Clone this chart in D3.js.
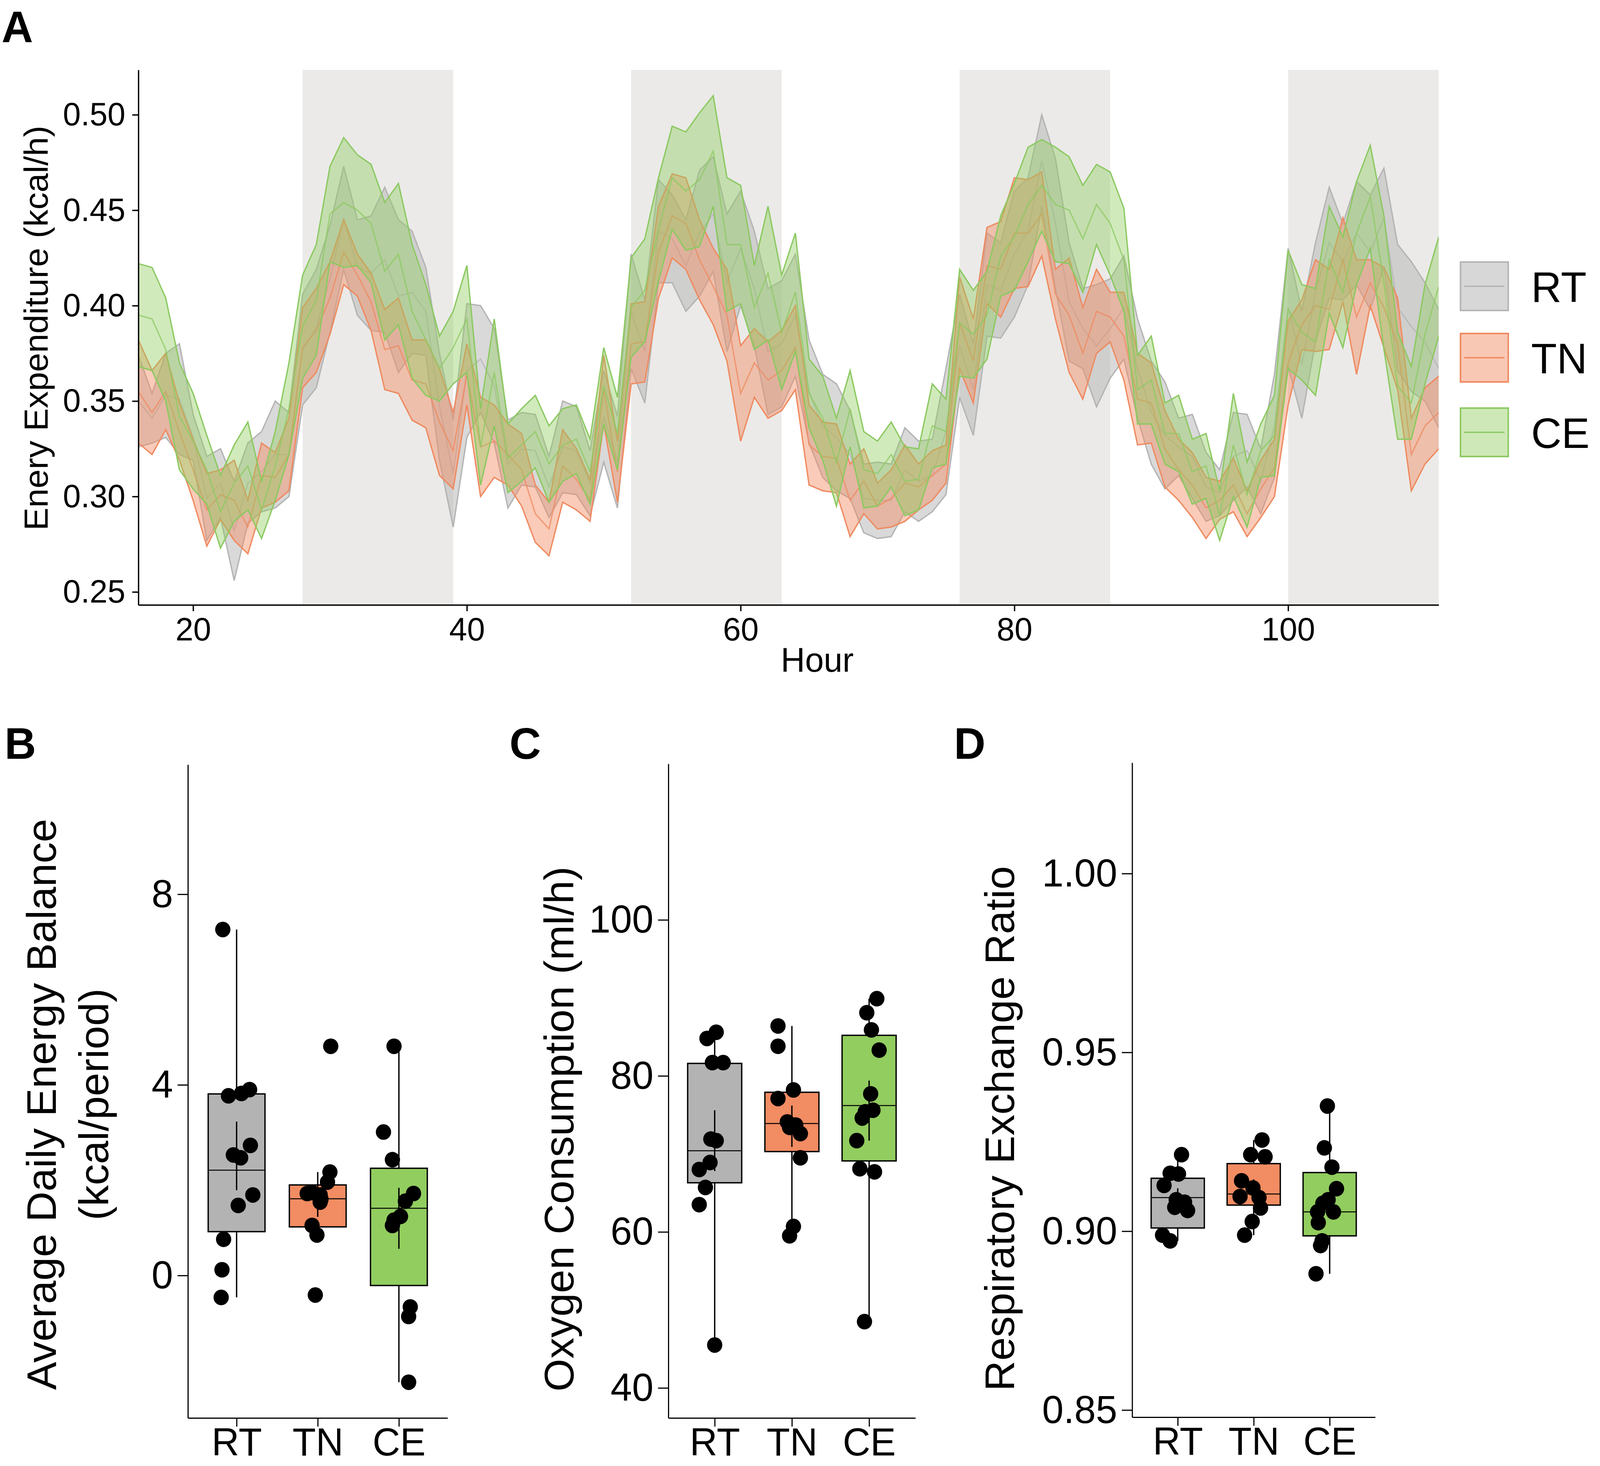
<!DOCTYPE html>
<html><head><meta charset="utf-8">
<script src="https://cdn.jsdelivr.net/npm/d3@7"></script>
<style>html,body{margin:0;padding:0;background:#fff;overflow:hidden} svg{display:block;width:100vw;height:100vh} text{font-family:"Liberation Sans",Arial,Helvetica,sans-serif}</style>
</head><body><svg id="c" viewBox="0 0 4186 3754" preserveAspectRatio="none" xmlns="http://www.w3.org/2000/svg"></svg>
<script>
// ---------------- DATA ----------------
const groups = ["RT", "TN", "CE"];
const groupColors = ["#b3b3b3", "#f28c62", "#92cd5f"];
const lineColors = ["#b4b4b4", "#ef8a60", "#8cc962"];

// Panel A: hourly energy expenditure (mean and SEM, kcal/h)
const hours = [16,17,18,19,20,21,22,23,24,25,26,27,28,29,30,31,32,33,34,35,36,37,38,39,40,41,42,43,44,45,46,47,48,49,50,51,52,53,54,55,56,57,58,59,60,61,62,63,64,65,66,67,68,69,70,71,72,73,74,75,76,77,78,79,80,81,82,83,84,85,86,87,88,89,90,91,92,93,94,95,96,97,98,99,100,101,102,103,104,105,106,107,108,109,110,111];
const hourDomain = [16, 111];
const eeDomain = [0.2432, 0.5235];
const eeTicks = [0.25, 0.30, 0.35, 0.40, 0.45, 0.50];
const hourTicks = [20, 40, 60, 80, 100];
const darkStart = [28, 52, 76, 100];
const darkEnd = [39, 63, 87, 111];

const rtMean = [.350,.341,.353,.351,.331,.299,.307,.282,.307,.313,.322,.322,.377,.388,.414,.446,.420,.417,.424,.405,.407,.397,.347,.312,.366,.372,.358,.317,.325,.324,.305,.326,.324,.307,.342,.318,.397,.376,.439,.435,.421,.438,.448,.412,.430,.409,.376,.380,.395,.355,.337,.331,.322,.299,.298,.298,.314,.308,.311,.334,.379,.356,.411,.408,.427,.439,.476,.443,.402,.388,.379,.388,.399,.367,.344,.332,.326,.321,.305,.302,.321,.324,.308,.337,.399,.369,.407,.433,.423,.438,.428,.446,.399,.389,.381,.367];
const rtSe = [.024,.013,.022,.029,.012,.022,.018,.026,.021,.021,.028,.022,.029,.031,.028,.027,.025,.030,.038,.040,.032,.023,.028,.028,.035,.028,.030,.023,.019,.019,.016,.024,.023,.017,.024,.024,.030,.027,.027,.023,.024,.033,.030,.036,.030,.030,.033,.033,.032,.027,.027,.028,.023,.018,.020,.019,.022,.021,.019,.033,.027,.024,.027,.025,.033,.028,.024,.034,.031,.021,.032,.026,.027,.026,.027,.028,.015,.022,.018,.012,.023,.019,.017,.027,.031,.028,.026,.029,.020,.027,.030,.026,.033,.034,.031,.031];
const tnMean = [.355,.344,.355,.334,.314,.293,.301,.298,.284,.311,.310,.322,.378,.387,.404,.428,.416,.402,.377,.379,.361,.359,.339,.324,.364,.326,.329,.322,.314,.291,.283,.316,.309,.298,.356,.313,.380,.381,.428,.447,.443,.424,.410,.395,.354,.370,.361,.366,.378,.327,.321,.320,.298,.308,.295,.299,.307,.305,.311,.317,.391,.371,.421,.419,.438,.438,.448,.406,.395,.375,.397,.394,.384,.351,.349,.325,.314,.306,.294,.298,.306,.291,.304,.315,.370,.390,.400,.398,.424,.394,.412,.399,.380,.322,.337,.344];
const tnSe = [.027,.022,.020,.015,.016,.019,.013,.021,.014,.017,.013,.019,.021,.022,.019,.017,.011,.015,.021,.025,.021,.023,.028,.020,.016,.026,.019,.016,.019,.015,.014,.019,.016,.011,.018,.016,.021,.021,.024,.022,.024,.021,.020,.024,.025,.018,.020,.021,.022,.021,.018,.018,.019,.017,.012,.015,.020,.012,.013,.010,.024,.022,.020,.025,.029,.028,.022,.013,.030,.024,.022,.013,.023,.024,.021,.020,.016,.017,.016,.010,.014,.012,.015,.015,.022,.013,.024,.021,.022,.030,.012,.021,.024,.019,.020,.019];
const ceMean = [.395,.393,.377,.342,.329,.314,.292,.307,.316,.293,.316,.346,.389,.403,.448,.454,.450,.443,.418,.427,.397,.382,.367,.378,.393,.326,.365,.320,.327,.334,.317,.327,.330,.313,.358,.333,.399,.408,.440,.467,.460,.466,.481,.432,.432,.399,.417,.386,.407,.354,.341,.318,.346,.314,.312,.322,.308,.309,.337,.334,.391,.385,.395,.426,.436,.453,.463,.453,.450,.435,.453,.443,.424,.356,.361,.333,.333,.313,.316,.290,.327,.301,.324,.332,.398,.386,.381,.424,.407,.438,.457,.412,.358,.349,.385,.410];
const ceSe = [.027,.027,.027,.028,.025,.018,.019,.020,.023,.015,.018,.024,.027,.029,.025,.034,.029,.031,.036,.037,.035,.029,.017,.019,.028,.020,.028,.018,.019,.019,.020,.019,.018,.017,.020,.019,.026,.027,.027,.027,.031,.035,.029,.035,.031,.022,.035,.030,.031,.018,.022,.023,.020,.020,.017,.017,.018,.016,.022,.017,.028,.023,.023,.021,.028,.030,.024,.030,.028,.028,.021,.027,.027,.018,.023,.016,.020,.017,.017,.013,.027,.017,.014,.021,.031,.025,.028,.028,.029,.027,.027,.035,.028,.019,.026,.026];

// Panel B: average daily energy balance (kcal/period)
const bDomain = [-2.99, 10.72];
const bTicks = [0, 4, 8];
const bQ1 = [0.92, 1.02, -0.21];
const bMed = [2.21, 1.61, 1.41];
const bQ3 = [3.81, 1.90, 2.25];
const bLo = [-0.46, 0.85, -2.24];
const bHi = [7.26, 2.17, 4.81];
const bMean = [2.51, 1.58, 1.20];
const bSe = [0.72, 0.35, 0.64];
const bRT = [7.26, 3.77, 3.82, 3.90, 2.73, 2.53, 2.47, 1.69, 1.47, 0.76, 0.12, -0.46];
const bRTj = [-0.17, -0.10, 0.06, 0.16, 0.17, -0.04, 0.05, 0.20, 0.02, -0.16, -0.18, -0.19];
const bTN = [4.81, 2.17, 1.96, 1.74, 1.72, 1.69, 1.60, 1.54, 1.05, 0.85, -0.41];
const bTNj = [0.16, 0.15, 0.12, -0.07, -0.13, 0.03, 0.04, 0.03, -0.07, -0.01, -0.03];
const bCE = [4.81, 3.01, 2.43, 1.72, 1.56, 1.24, 1.16, 1.05, -0.66, -0.86, -2.24];
const bCEj = [-0.06, -0.19, -0.08, 0.18, 0.08, 0.02, -0.06, -0.08, 0.14, 0.12, 0.12];

// Panel C: oxygen consumption (ml/h)
const cDomain = [36.15, 120];
const cTicks = [40, 60, 80, 100];
const cQ1 = [66.3, 70.3, 69.1];
const cMed = [70.4, 73.9, 76.2];
const cQ3 = [81.6, 77.9, 85.2];
const cLo = [45.5, 59.5, 48.5];
const cHi = [85.6, 86.4, 89.9];
const cMean = [71.7, 73.55, 75.55];
const cSe = [3.9, 2.65, 3.85];
const cRT = [85.6, 84.8, 81.7, 81.7, 71.9, 71.7, 68.9, 68.0, 65.7, 63.5, 45.5];
const cRTj = [0.02, -0.10, 0.11, -0.03, -0.05, 0.02, -0.06, -0.20, -0.12, -0.20, 0.0];
const cTN = [86.4, 83.8, 78.2, 77.1, 74.1, 73.7, 72.6, 73.4, 69.5, 60.7, 59.5];
const cTNj = [-0.18, -0.18, 0.02, -0.18, -0.06, 0.05, 0.11, -0.03, 0.11, 0.02, -0.03];
const cCE = [89.9, 88.1, 85.9, 83.3, 77.7, 75.6, 75.4, 74.6, 71.7, 68.1, 67.7, 48.5];
const cCEj = [0.10, -0.03, 0.03, 0.13, 0.02, 0.05, -0.05, -0.09, -0.16, -0.12, 0.07, -0.06];

// Panel D: respiratory exchange ratio
const dDomain = [0.848, 1.031];
const dTicks = [0.85, 0.90, 0.95, 1.00];
const dQ1 = [0.9009, 0.9073, 0.8987];
const dMed = [0.9094, 0.9104, 0.9054];
const dQ3 = [0.9148, 0.9189, 0.9164];
const dLo = [0.8973, 0.8989, 0.8881];
const dHi = [0.9214, 0.9255, 0.9350];
const dMean = [0.9095, 0.9120, 0.9080];
const dSe = [0.0025, 0.0025, 0.0030];
const dRT = [0.9214, 0.9162, 0.9160, 0.9128, 0.9088, 0.9081, 0.9067, 0.9058, 0.8989, 0.8973];
const dRTj = [0.05, -0.10, 0.01, -0.18, -0.02, 0.09, -0.04, 0.13, -0.20, -0.10];
const dTN = [0.9255, 0.9214, 0.9208, 0.9141, 0.9097, 0.9121, 0.9094, 0.9065, 0.9027, 0.8989];
const dTNj = [0.11, -0.04, 0.15, -0.16, -0.18, -0.01, 0.07, 0.09, -0.02, -0.12];
const dCE = [0.9350, 0.9233, 0.9179, 0.9119, 0.9088, 0.9078, 0.9054, 0.9054, 0.9024, 0.8973, 0.8960, 0.8881];
const dCEj = [-0.03, -0.07, 0.03, 0.09, -0.02, -0.09, 0.05, -0.16, -0.15, -0.10, -0.12, -0.18];

// ---------------- DRAW ----------------
const svg = d3.select("#c");
svg.append("rect").attr("width", 4186).attr("height", 3754).attr("fill", "#ffffff");
const FONT = '"Liberation Sans", Arial, Helvetica, sans-serif';

// ===== Panel A =====
const A = {l: 362, r: 3764, t: 179, b: 1549};
const xA = d3.scaleLinear().domain(hourDomain).range([A.l, A.r]);
const yA = d3.scaleLinear().domain(eeDomain).range([A.b, A.t]);

svg.append("defs").append("clipPath").attr("id", "clipA")
  .append("rect").attr("x", A.l).attr("y", A.t).attr("width", A.r - A.l).attr("height", A.b - A.t);

const gA = svg.append("g");
gA.selectAll("rect.dark").data(darkStart).enter().append("rect")
  .attr("x", (d) => xA(d)).attr("y", A.t)
  .attr("width", (d, i) => xA(darkEnd[i]) - xA(d)).attr("height", A.b - A.t)
  .attr("fill", "#ebeae8");

const seriesA = [
  {mean: rtMean, se: rtSe, fill: groupColors[0], op: 0.5, line: lineColors[0]},
  {mean: tnMean, se: tnSe, fill: groupColors[1], op: 0.45, line: lineColors[1]},
  {mean: ceMean, se: ceSe, fill: groupColors[2], op: 0.42, line: lineColors[2]}
];
const gData = gA.append("g").attr("clip-path", "url(#clipA)");
seriesA.forEach((s) => {
  const pts = hours.map((h, i) => ({h: h, m: s.mean[i], e: s.se[i]}));
  const area = d3.area().x((d) => xA(d.h)).y0((d) => yA(d.m - d.e)).y1((d) => yA(d.m + d.e));
  gData.append("path").attr("d", area(pts)).attr("fill", s.fill).attr("fill-opacity", s.op).attr("stroke", "none");
  const lineHi = d3.line().x((d) => xA(d.h)).y((d) => yA(d.m + d.e));
  const lineLo = d3.line().x((d) => xA(d.h)).y((d) => yA(d.m - d.e));
  const lineM = d3.line().x((d) => xA(d.h)).y((d) => yA(d.m));
  [lineHi, lineLo].forEach((ln) => {
    gData.append("path").attr("d", ln(pts)).attr("fill", "none").attr("stroke", s.line)
      .attr("stroke-width", 3.5).attr("stroke-linejoin", "miter");
  });
  gData.append("path").attr("d", lineM(pts)).attr("fill", "none").attr("stroke", s.line)
    .attr("stroke-width", 3.5).attr("stroke-opacity", 0.75);
});

function styleAxis(g, fs, sw) {
  g.selectAll("path.domain").attr("stroke", "#000").attr("stroke-width", sw);
  g.selectAll(".tick line").attr("stroke", "#000").attr("stroke-width", sw);
  g.selectAll(".tick text").attr("fill", "#000").style("font-size", fs + "px").style("font-family", FONT);
}
const axYA = svg.append("g").attr("transform", `translate(${A.l},0)`)
  .call(d3.axisLeft(yA).tickValues(eeTicks).tickFormat(d3.format(".2f")).tickSize(16).tickSizeOuter(0).tickPadding(18));
styleAxis(axYA, 84, 3.5);
const axXA = svg.append("g").attr("transform", `translate(0,${A.b})`)
  .call(d3.axisBottom(xA).tickValues(hourTicks).tickFormat(d3.format("d")).tickSize(16).tickSizeOuter(0).tickPadding(15));
styleAxis(axXA, 84, 3.5);

svg.append("text").attr("transform", "translate(125,840) rotate(-90)").attr("text-anchor", "middle")
  .style("font-size", "88px").text("Enery Expenditure (kcal/h)");
svg.append("text").attr("x", 2138).attr("y", 1720).attr("text-anchor", "middle")
  .style("font-size", "88px").text("Hour");
svg.append("text").attr("x", 4).attr("y", 108).style("font-size", "114px").style("font-weight", "bold").text("A");

// Legend
const legY = [733, 916, 1107];
groups.forEach((g, i) => {
  const lg = svg.append("g");
  lg.append("rect").attr("x", 3821).attr("y", legY[i] - 62).attr("width", 125).attr("height", 124)
    .attr("fill", "#ffffff");
  lg.append("rect").attr("x", 3821).attr("y", legY[i] - 62).attr("width", 125).attr("height", 124)
    .attr("fill", groupColors[i]).attr("fill-opacity", seriesA[i].op + 0.03)
    .attr("stroke", lineColors[i]).attr("stroke-width", 4);
  lg.append("line").attr("x1", 3831).attr("x2", 3936).attr("y1", legY[i]).attr("y2", legY[i])
    .attr("stroke", lineColors[i]).attr("stroke-width", 3.5);
  lg.append("text").attr("x", 4006).attr("y", legY[i]).attr("dy", "0.36em")
    .style("font-size", "110px").text(g);
});

// ===== Box panels =====
function boxPanel(cfg) {
  const x = d3.scaleLinear().domain([0.4, 3.6]).range([cfg.l, cfg.r]);
  const y = d3.scaleLinear().domain(cfg.domain).range([cfg.b, cfg.t]);
  const g = svg.append("g");
  const bw = 0.7;
  groups.forEach((name, i) => {
    const cx = x(i + 1);
    g.append("line").attr("x1", cx).attr("x2", cx).attr("y1", y(cfg.hi[i])).attr("y2", y(cfg.q3[i]))
      .attr("stroke", "#000").attr("stroke-width", 3.5);
    g.append("line").attr("x1", cx).attr("x2", cx).attr("y1", y(cfg.q1[i])).attr("y2", y(cfg.lo[i]))
      .attr("stroke", "#000").attr("stroke-width", 3.5);
    g.append("rect").attr("x", x(i + 1 - bw / 2)).attr("width", x(i + 1 + bw / 2) - x(i + 1 - bw / 2))
      .attr("y", y(cfg.q3[i])).attr("height", y(cfg.q1[i]) - y(cfg.q3[i]))
      .attr("fill", groupColors[i]).attr("stroke", "#000").attr("stroke-width", 3.5);
    g.append("line").attr("x1", x(i + 1 - bw / 2)).attr("x2", x(i + 1 + bw / 2))
      .attr("y1", y(cfg.med[i])).attr("y2", y(cfg.med[i])).attr("stroke", "#000").attr("stroke-width", 2.5);
    g.append("line").attr("x1", cx).attr("x2", cx)
      .attr("y1", y(cfg.mean[i] + cfg.se[i])).attr("y2", y(cfg.mean[i] - cfg.se[i]))
      .attr("stroke", "#000").attr("stroke-width", 3.5);
    const vals = cfg.pts[i], jit = cfg.jit[i];
    g.selectAll(null).data(vals).enter().append("circle")
      .attr("cx", (d, k) => x(i + 1 + jit[k])).attr("cy", (d) => y(d)).attr("r", 20).attr("fill", "#000");
  });
  const ay = svg.append("g").attr("transform", `translate(${cfg.l},0)`)
    .call(d3.axisLeft(y).tickValues(cfg.ticks).tickFormat(cfg.fmt).tickSize(27).tickSizeOuter(0).tickPadding(12));
  styleAxis(ay, 101, 3);
  const ax = svg.append("g").attr("transform", `translate(0,${cfg.b})`)
    .call(d3.axisBottom(x).tickValues([1, 2, 3]).tickFormat((d) => groups[d - 1]).tickSize(22).tickSizeOuter(0).tickPadding(3));
  styleAxis(ax, 100, 3);
  cfg.titles.forEach((tt) => {
    svg.append("text").attr("transform", `translate(${tt.x},${cfg.titleY}) rotate(-90)`)
      .attr("text-anchor", "middle").style("font-size", "108px").text(tt.text);
  });
  svg.append("text").attr("x", cfg.letterX).attr("y", 1943).style("font-size", "114px")
    .style("font-weight", "bold").text(cfg.letter);
}

boxPanel({l: 491.6, r: 1171, t: 1958, b: 3631, domain: bDomain, ticks: bTicks, fmt: d3.format("d"),
  q1: bQ1, med: bMed, q3: bQ3, lo: bLo, hi: bHi, mean: bMean, se: bSe,
  pts: [bRT, bTN, bCE], jit: [bRTj, bTNj, bCEj],
  titles: [{x: 146, text: "Average Daily Energy Balance"}, {x: 283, text: "(kcal/period)"}], titleY: 2828,
  letter: "B", letterX: 12});

boxPanel({l: 1748.6, r: 2395, t: 1956, b: 3631, domain: cDomain, ticks: cTicks, fmt: d3.format("d"),
  q1: cQ1, med: cMed, q3: cQ3, lo: cLo, hi: cHi, mean: cMean, se: cSe,
  pts: [cRT, cTN, cCE], jit: [cRTj, cTNj, cCEj],
  titles: [{x: 1500, text: "Oxygen Consumption (ml/h)"}], titleY: 2891,
  letter: "C", letterX: 1333});

boxPanel({l: 2962, r: 3598, t: 1953, b: 3629, domain: dDomain, ticks: dTicks, fmt: d3.format(".2f"),
  q1: dQ1, med: dMed, q3: dQ3, lo: dLo, hi: dHi, mean: dMean, se: dSe,
  pts: [dRT, dTN, dCE], jit: [dRTj, dTNj, dCEj],
  titles: [{x: 2653, text: "Respiratory Exchange Ratio"}], titleY: 2890,
  letter: "D", letterX: 2496});
</script>
</body></html>
